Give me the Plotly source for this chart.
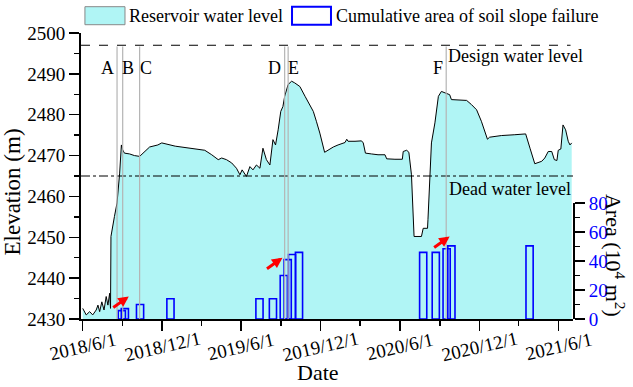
import plotly.graph_objects as go

# ---------------- data ----------------
level_dates = [
    "2018-06-01", "2018-06-09", "2018-06-17", "2018-06-24", "2018-07-02", "2018-07-06",
    "2018-07-10", "2018-07-15", "2018-07-20", "2018-07-25", "2018-07-29", "2018-08-02",
    "2018-08-04", "2018-08-05", "2018-08-13", "2018-08-19", "2018-08-25", "2018-08-29",
    "2018-09-01", "2018-09-05", "2018-09-17", "2018-09-28", "2018-10-10", "2018-10-21",
    "2018-11-02", "2018-11-21", "2018-11-30", "2018-12-31", "2019-01-31", "2019-03-09",
    "2019-03-25", "2019-04-09", "2019-04-17", "2019-04-28", "2019-05-10", "2019-05-21",
    "2019-05-29", "2019-06-03", "2019-06-13", "2019-06-21", "2019-06-28", "2019-07-06",
    "2019-07-14", "2019-07-21", "2019-07-29", "2019-08-06", "2019-08-13", "2019-08-19",
    "2019-08-25", "2019-08-31", "2019-09-05", "2019-09-09", "2019-09-17", "2019-09-25",
    "2019-10-02", "2019-10-14", "2019-10-26", "2019-11-06", "2019-11-14", "2019-11-21",
    "2019-11-29", "2019-12-10", "2019-12-18", "2019-12-30", "2020-01-10", "2020-01-26",
    "2020-01-30", "2020-02-02", "2020-02-18", "2020-03-04", "2020-03-08", "2020-03-13",
    "2020-03-27", "2020-04-11", "2020-04-27", "2020-05-01", "2020-05-20", "2020-06-06",
    "2020-06-08", "2020-06-16", "2020-06-21", "2020-06-27", "2020-07-03", "2020-07-20",
    "2020-07-24", "2020-08-03", "2020-08-04", "2020-08-08", "2020-08-12", "2020-08-20",
    "2020-08-28", "2020-09-04", "2020-09-16", "2020-09-23", "2020-09-27", "2020-10-16",
    "2020-11-01", "2020-11-12", "2020-11-24", "2020-12-05", "2020-12-19", "2020-12-24",
    "2021-01-20", "2021-02-20", "2021-03-17", "2021-03-27", "2021-04-07", "2021-04-23",
    "2021-04-30", "2021-05-08", "2021-05-16", "2021-05-22", "2021-05-28", "2021-05-31",
    "2021-06-06", "2021-06-11", "2021-06-17", "2021-06-23", "2021-06-27", "2021-07-01",
]
level_values = [
    2432.6, 2431.0, 2431.8, 2431.0, 2432.2, 2433.4,
    2431.8, 2434.2, 2432.2, 2435.5, 2433.4, 2436.3,
    2432.6, 2450.2, 2455.1, 2458.4, 2465.7, 2472.6,
    2471.4, 2470.6, 2470.4, 2470.0, 2469.8, 2470.8,
    2472.1, 2472.6, 2473.1, 2472.3, 2471.8, 2471.3,
    2470.2, 2469.0, 2469.4, 2469.0, 2468.2, 2466.9,
    2465.3, 2466.5, 2464.9, 2467.3, 2466.5, 2467.7,
    2466.9, 2471.8, 2469.0, 2467.7, 2473.9, 2472.6,
    2476.3, 2480.8, 2482.0, 2484.5, 2487.4, 2488.2,
    2487.8, 2486.9, 2484.5, 2482.5, 2480.8, 2478.4,
    2475.5, 2470.8, 2471.4, 2472.1, 2472.6, 2473.2,
    2474.0, 2473.5, 2473.5, 2473.6, 2473.1, 2470.6,
    2470.4, 2470.2, 2470.2, 2469.2, 2469.1, 2469.1,
    2471.0, 2471.3, 2470.8, 2465.3, 2450.2, 2450.2,
    2452.2, 2452.2, 2454.3, 2464.9, 2473.1, 2478.0,
    2484.5, 2485.7, 2485.3, 2484.9, 2483.7, 2483.5,
    2483.5, 2482.5, 2481.2, 2478.4, 2474.0, 2474.5,
    2474.9, 2475.1, 2475.3, 2471.8, 2468.0, 2468.6,
    2469.4, 2471.0, 2471.0, 2469.0, 2468.8, 2471.3,
    2471.6, 2477.5, 2476.3, 2473.5, 2472.6, 2473.1,
]

failure_dates = [
    "2018-08-30", "2018-09-06", "2018-10-11", "2018-12-20", "2019-07-13",
    "2019-08-13", "2019-09-07", "2019-09-16", "2019-09-26", "2019-10-12",
    "2020-07-24", "2020-08-22", "2020-09-16", "2020-09-27", "2021-03-26",
]
failure_area = [5.8, 7.2, 10, 14, 14, 14, 30, 41, 44.5, 46, 46, 46, 48.5, 50.5, 50.5]

event_labels = ["A", "B", "C", "D", "E", "F"]
event_dates = ["2018-08-19", "2018-09-01", "2018-10-10", "2019-09-09", "2019-09-17", "2020-09-15"]
event_label_dates = ["2018-07-29", "2018-09-13", "2018-10-24", "2019-08-17", "2019-09-30", "2020-08-28"]

arrow_dates = ["2018-09-15", "2019-09-04", "2020-09-23"]
arrow_levels = [2435.5, 2445.0, 2450.2]

design_level = 2497
dead_level = 2465

x_tick_vals = ["2018-06-01", "2018-12-01", "2019-06-01", "2019-12-01",
               "2020-06-01", "2020-12-01", "2021-06-01"]
x_tick_text = ["2018/6/1", "2018/12/1", "2019/6/1", "2019/12/1",
               "2020/6/1", "2020/12/1", "2021/6/1"]

FONT = "Liberation Serif"
CYAN = "#b0f5f5"

fig = go.Figure()

fig.add_trace(go.Scatter(
    x=level_dates, y=level_values, mode="lines", fill="tozeroy",
    fillcolor=CYAN, line=dict(color="black", width=1),
    name="Reservoir water level", showlegend=False, xaxis="x", yaxis="y",
    hoverinfo="skip",
))

fig.add_trace(go.Bar(
    x=failure_dates, y=failure_area, width=[16.5 * 86400000] * len(failure_dates),
    marker=dict(color="rgba(0,0,0,0)", line=dict(color="#0000ff", width=1.6)),
    name="Cumulative area of soil slope failure", showlegend=False,
    xaxis="x", yaxis="y2", hoverinfo="skip",
))

shapes = []
# design & dead water level lines
shapes.append(dict(type="line", xref="paper", x0=0, x1=0.995, yref="y",
                   y0=design_level, y1=design_level,
                   line=dict(color="black", width=1, dash="dash")))
shapes.append(dict(type="line", xref="paper", x0=0, x1=1, yref="y",
                   y0=dead_level, y1=dead_level,
                   line=dict(color="black", width=1, dash="dashdot")))
# event lines
for d in event_dates:
    shapes.append(dict(type="line", xref="x", x0=d, x1=d, yref="y",
                       y0=2430, y1=design_level - 0.3,
                       line=dict(color="#b4b4b4", width=1.2)))
# custom legend boxes
shapes.append(dict(type="rect", xref="paper", yref="paper",
                   x0=0.008, x1=0.0894, y0=1.029, y1=1.092,
                   fillcolor=CYAN, line=dict(color="#888888", width=1)))
shapes.append(dict(type="rect", xref="paper", yref="paper",
                   x0=0.4289, x1=0.5081, y0=1.029, y1=1.092,
                   fillcolor="white", line=dict(color="#0000ff", width=2)))

ann = []
ann.append(dict(text="Reservoir water level", xref="paper", yref="paper",
                x=0.0935, y=1.0605, xanchor="left", yanchor="middle",
                showarrow=False, font=dict(family=FONT, size=18, color="black")))
ann.append(dict(text="Cumulative area of soil slope failure", xref="paper", yref="paper",
                x=0.514, y=1.0605, xanchor="left", yanchor="middle",
                showarrow=False, font=dict(family=FONT, size=18, color="black")))
ann.append(dict(text="Design water level", xref="paper", yref="paper",
                x=0.884, y=0.9206, xanchor="center", yanchor="middle",
                showarrow=False, font=dict(family=FONT, size=18, color="black")))
ann.append(dict(text="Dead water level", xref="paper", yref="paper",
                x=0.872, y=0.455, xanchor="center", yanchor="middle",
                showarrow=False, font=dict(family=FONT, size=18, color="black")))
for lab, d in zip(event_labels, event_label_dates):
    ann.append(dict(text=lab, xref="x", yref="y", x=d, y=2491.5,
                    xanchor="center", yanchor="middle", showarrow=False,
                    font=dict(family=FONT, size=18, color="black")))
for d, v in zip(arrow_dates, arrow_levels):
    ann.append(dict(text="", xref="x", yref="y", x=d, y=v, ax=-17, ay=12,
                    showarrow=True, arrowhead=2, arrowsize=0.7, arrowwidth=3,
                    arrowcolor="#ff0000"))
for tv, tt in zip(x_tick_vals, x_tick_text):
    ann.append(dict(text=tt, xref="x", yref="paper", x=tv, y=0, yshift=-27,
                    xanchor="center", yanchor="middle", textangle=-13,
                    showarrow=False, font=dict(family=FONT, size=19, color="black")))
# axis titles
ann.append(dict(text="Elevation (m)", xref="paper", yref="paper", x=0, y=0.444,
                xshift=-68.5, xanchor="center", yanchor="middle", textangle=-90,
                showarrow=False, font=dict(family=FONT, size=23, color="black")))
ann.append(dict(text="Date", xref="paper", yref="paper", x=0.4817, y=0,
                yshift=-53, xanchor="center", yanchor="middle",
                showarrow=False, font=dict(family=FONT, size=22, color="black")))
ann.append(dict(text="Area (10<sup>4</sup> m<sup>2</sup>)", xref="paper", yref="paper",
                x=1, y=0.224, xshift=42, xanchor="center", yanchor="middle",
                textangle=90, showarrow=False,
                font=dict(family=FONT, size=22, color="black")))

fig.update_layout(
    width=633, height=387,
    margin=dict(l=81, r=60, t=33, b=68),
    paper_bgcolor="white", plot_bgcolor="rgba(0,0,0,0)",
    barmode="overlay", showlegend=False, hovermode=False,
    font=dict(family=FONT, size=19, color="black"),
    shapes=shapes, annotations=ann,
    xaxis=dict(
        type="date", range=["2018-05-28", "2021-07-04"],
        tick0="2018-06-01", dtick="M6", tickmode="linear",
        showticklabels=False, ticks="outside", ticklen=10, tickwidth=1.5,
        tickcolor="black", showline=True, linecolor="black", linewidth=2,
        showgrid=False, zeroline=False,
        minor=dict(tick0="2018-06-01", dtick="M3", ticks="outside", ticklen=5,
                   tickwidth=1.5, tickcolor="black", showgrid=False),
    ),
    yaxis=dict(
        range=[2430, 2500], dtick=10, tick0=2430, ticks="outside", ticklen=10,
        tickwidth=1.5, tickcolor="black", showline=True, linecolor="black",
        linewidth=2, showgrid=False, zeroline=False,
        tickfont=dict(family=FONT, size=19, color="black"),
        minor=dict(dtick=5, ticks="outside", ticklen=5, tickwidth=1.5,
                   tickcolor="black", showgrid=False),
    ),
    yaxis2=dict(
        domain=[0, 0.405], anchor="x", side="right",
        range=[0, 80], dtick=20, tick0=0, ticks="outside", ticklen=10,
        tickwidth=1.5, tickcolor="black", showline=True, linecolor="black",
        linewidth=2, showgrid=False, zeroline=False,
        tickfont=dict(family=FONT, size=19, color="#0000ff"),
        minor=dict(dtick=10, ticks="outside", ticklen=5, tickwidth=1.5,
                   tickcolor="black", showgrid=False),
    ),
)

fig.write_html("out.html",
               config={"displayModeBar": False, "staticPlot": True},
               post_script="document.body.style.margin='0';document.body.style.overflow='hidden';")
